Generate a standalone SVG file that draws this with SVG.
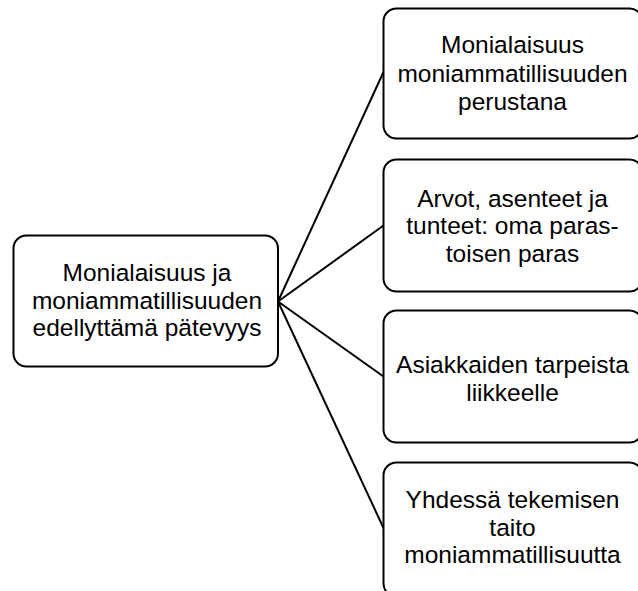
<svg xmlns="http://www.w3.org/2000/svg" width="638" height="591" viewBox="0 0 638 591">
<style>
.box{fill:#fff;stroke:#000;stroke-width:2}
.t{font-family:"Liberation Sans",Arial,sans-serif;fill:#000;text-anchor:middle;font-size:24.5px}
.c{stroke:#000;stroke-width:2;fill:none}
</style>
<rect width="638" height="591" fill="#fff"/>
<g id="connectors">
<line class="c" x1="278" y1="301.5" x2="383.5" y2="72"/>
<line class="c" x1="278" y1="301.5" x2="383.5" y2="225.5"/>
<line class="c" x1="278" y1="301.5" x2="383.5" y2="376.5"/>
<line class="c" x1="278" y1="301.5" x2="383.5" y2="528"/>
</g>
<g id="center">
<rect class="box" x="13.5" y="235.5" width="264.5" height="131" rx="13"/>
<text class="t" x="147" y="281">Monialaisuus ja</text>
<text class="t" x="147" y="308.5">moniammatillisuuden</text>
<text class="t" x="147" y="336">edellyttämä pätevyys</text>
</g>
<g id="n1">
<rect class="box" x="383.5" y="8.5" width="259" height="130" rx="13"/>
<text class="t" x="512.5" y="53">Monialaisuus</text>
<text class="t" x="512.5" y="81.5">moniammatillisuuden</text>
<text class="t" x="512.5" y="109.5">perustana</text>
</g>
<g id="n2">
<rect class="box" x="383.5" y="159.5" width="259" height="132" rx="13"/>
<text class="t" x="512.5" y="206.5">Arvot, asenteet ja</text>
<text class="t" x="512.5" y="234">tunteet: oma paras-</text>
<text class="t" x="512.5" y="261.5">toisen paras</text>
</g>
<g id="n3">
<rect class="box" x="383.5" y="310.5" width="259" height="132" rx="13"/>
<text class="t" x="512.5" y="373">Asiakkaiden tarpeista</text>
<text class="t" x="512.5" y="400.5">liikkeelle</text>
</g>
<g id="n4">
<rect class="box" x="383.5" y="462.5" width="259" height="134" rx="13"/>
<text class="t" x="512.5" y="508">Yhdessä tekemisen</text>
<text class="t" x="512.5" y="535.5">taito</text>
<text class="t" x="512.5" y="563">moniammatillisuutta</text>
</g>
</svg>
